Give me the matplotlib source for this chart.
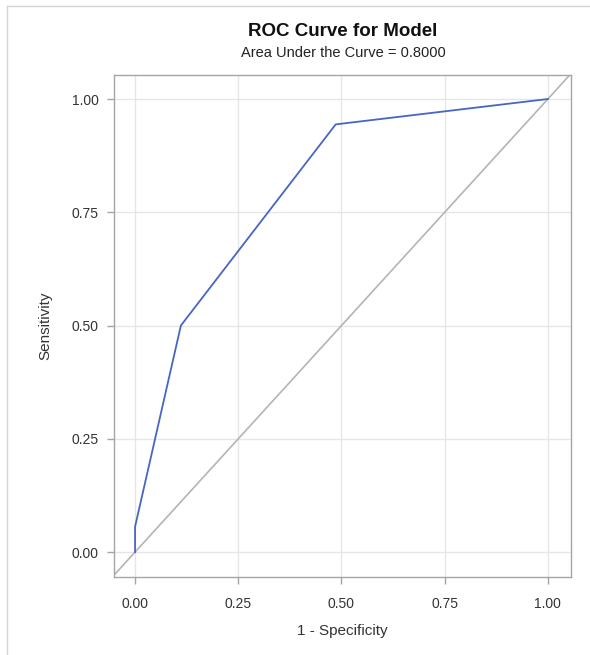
import matplotlib.pyplot as plt
from matplotlib.lines import Line2D

plt.rcParams['font.family'] = ['Liberation Sans', 'DejaVu Sans']

# ROC points
fpr = [0.0, 0.0, 0.111, 0.486, 1.0]
tpr = [0.0, 0.056, 0.5, 0.944, 1.0]
ticks = [0.0, 0.25, 0.5, 0.75, 1.0]
tick_labels = ['0.00', '0.25', '0.50', '0.75', '1.00']
auc = 0.8

fig = plt.figure(figsize=(5.9, 6.55), dpi=100)
ax = fig.add_axes([114/590, 1-577/655, (571-114)/590, (577-75)/655])

ax.axline((0, 0), (1, 1), color='#b4b4b4', lw=1.2, zorder=2)
ax.plot(fpr, tpr, color='#4765c4', lw=1.3, zorder=3)

ax.set_xlim(-0.051, 1.056)
ax.set_ylim(-0.055, 1.053)
ax.set_xticks(ticks)
ax.set_xticklabels(tick_labels)
ax.set_yticks(ticks)
ax.set_yticklabels(tick_labels)
ax.grid(True, color='#e6e6e6', lw=1.0, zorder=0)
ax.set_axisbelow(True)
for s in ax.spines.values():
    s.set_color('#a5a5a5')
    s.set_linewidth(1.0)
ax.tick_params(direction='out', length=5, width=1, color='#a5a5a5',
               labelsize=10, labelcolor='#333333')
ax.tick_params(axis='x', pad=9.5)
ax.tick_params(axis='y', pad=6)

ax.set_xlabel('1 - Specificity', fontsize=11, color='#333333', labelpad=9.5)
ax.set_ylabel('Sensitivity', fontsize=11, color='#333333', labelpad=13.5)

fig.text(343/590, 1-32/655, 'ROC Curve for Model', ha='center', va='center',
         fontsize=13.5, fontweight='bold', color='#111111')
fig.text(343/590, 1-53/655, 'Area Under the Curve = %.4f' % auc, ha='center',
         va='center', fontsize=10.5, color='#222222')

# outer frame lines (top and left visible in the screenshot)
fig.add_artist(Line2D([7/590, 1], [1-6/655, 1-6/655], transform=fig.transFigure,
                      color='#d4d4d4', lw=1))
fig.add_artist(Line2D([7/590, 7/590], [0, 1-6/655], transform=fig.transFigure,
                      color='#d4d4d4', lw=1))

plt.savefig('out.png')
